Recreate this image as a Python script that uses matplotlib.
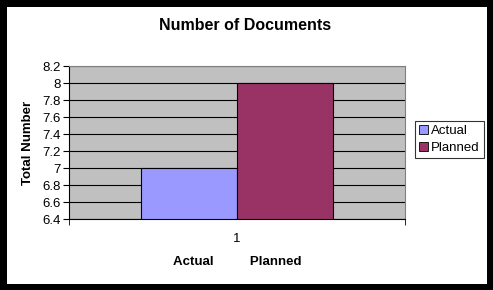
import numpy as np
import matplotlib.pyplot as plt
from matplotlib.patches import Patch

# 数据
series = ["Actual", "Planned"]
values = [7, 8]
colors = ["#9999FF", "#993366"]
yticks = [6.4, 6.6, 6.8, 7.0, 7.2, 7.4, 7.6, 7.8, 8.0, 8.2]
ytick_labels = ["6.4", "6.6", "6.8", "7", "7.2", "7.4", "7.6", "7.8", "8", "8.2"]

plt.rcParams['font.family'] = ['Liberation Sans', 'DejaVu Sans']

fig = plt.figure(figsize=(4.93, 2.90), dpi=100)
fig.patch.set_facecolor("white")
fig.patch.set_edgecolor("black")
fig.patch.set_linewidth(9)

ax = fig.add_axes([0.14, 0.2448, 0.6815, 0.5276])
ax.set_facecolor("#C0C0C0")

width = 0.2857
offsets = [-width / 2, width / 2]
for off, v, c in zip(offsets, values, colors):
    ax.bar(off, v - 6.4, bottom=6.4, width=width, color=c,
           edgecolor="black", linewidth=0.8, zorder=3)

ax.set_xlim(-0.5, 0.5)
ax.set_ylim(6.4, 8.2)
ax.set_yticks(yticks)
ax.set_yticklabels(ytick_labels, fontsize=9.5)
ax.yaxis.grid(True, color="black", linewidth=0.8, zorder=1)
ax.set_axisbelow(True)

ax.set_xticks([0])
ax.set_xticklabels(["1"], fontsize=9.5)
ax.tick_params(axis="x", length=0, pad=10)
ax.set_xticks([-0.5, 0.5], minor=True)
ax.tick_params(axis="x", which="minor", length=4, color="black")
ax.tick_params(axis="y", length=4, color="black", pad=2)

for s in ["top", "right"]:
    ax.spines[s].set_color("#808080")
for s in ["left", "bottom"]:
    ax.spines[s].set_color("black")

ax.set_xlabel("Actual          Planned", fontsize=9.5, fontweight="bold", labelpad=8)
ax.set_ylabel("Total Number", fontsize=9.5, fontweight="bold", labelpad=6)
fig.text(0.497, 0.913, "Number of Documents", ha="center", va="center",
         fontsize=11.5, fontweight="bold")

handles = [Patch(facecolor=c, edgecolor="black", linewidth=0.6) for c in colors]
leg = fig.legend(handles, series, loc="upper left", bbox_to_anchor=(0.842, 0.583),
                 fontsize=9.5, frameon=True, fancybox=False, handlelength=0.7,
                 handleheight=0.7, handletextpad=0.2, borderpad=0.3,
                 labelspacing=0.35, borderaxespad=0)
leg.get_frame().set_edgecolor("black")
leg.get_frame().set_linewidth(0.8)

fig.savefig("out.png", dpi=100)
